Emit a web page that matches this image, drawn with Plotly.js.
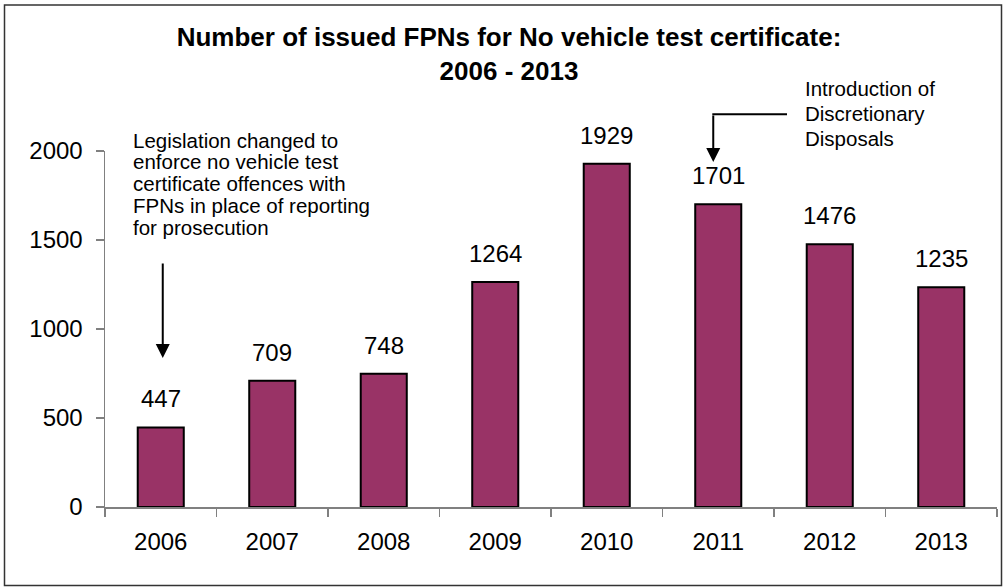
<!DOCTYPE html>
<html><head><meta charset="utf-8">
<script src="https://cdn.plot.ly/plotly-3.0.1.min.js"></script>
<style>html,body{margin:0;padding:0;background:#fff}#chart{width:1003px;height:587px}</style>
</head><body><div id="chart"></div>
<script>
// ---- data ----
const years = ['2006','2007','2008','2009','2010','2011','2012','2013'];
const fpns = [447, 709, 748, 1264, 1929, 1701, 1476, 1235];
const yTicks = [0, 500, 1000, 1500, 2000];
const titleText = 'Number of issued FPNs for No vehicle test certificate:<br>2006 - 2013';
const noteLeft = ['Legislation changed to', 'enforce no vehicle test', 'certificate offences with', 'FPNs in place of reporting', 'for prosecution'];
const noteRight = ['Introduction of', 'Discretionary', 'Disposals'];
const noteLeftYear = '2006';
const noteRightYear = '2011';

// ---- layout geometry (pixels) ----
const FONT = 'Liberation Sans, Arial, sans-serif';
const L = 105, R = 997, T = 151, B = 507, FW = 1003, FH = 587;
const W = R - L, H = B - T;
const YMAX = 2000;
const px = x => (x - L) / W;
const py = y => (B - y) / H;
const pv = y => (B - y) / H * YMAX;
const idx = yr => years.indexOf(yr);

const annotations = [];
// data labels
years.forEach((yr, i) => {
  annotations.push({
    x: idx(yr), y: fpns[i], xref: 'x', yref: 'y', text: String(fpns[i]),
    showarrow: false, yanchor: 'bottom', yshift: 13,
    font: {family: FONT, size: 24, color: '#000'}
  });
});
// left note lines
noteLeft.forEach((t, i) => {
  annotations.push({
    x: px(131), y: py(140 + i * 21.8), xref: 'paper', yref: 'paper', text: t,
    showarrow: false, xanchor: 'left', yanchor: 'middle',
    font: {family: FONT, size: 20.5, color: '#000'}
  });
});
// right note lines
noteRight.forEach((t, i) => {
  annotations.push({
    x: px(803), y: py(89 + i * 25), xref: 'paper', yref: 'paper', text: t,
    showarrow: false, xanchor: 'left', yanchor: 'middle',
    font: {family: FONT, size: 20.5, color: '#000'}
  });
});
// arrows
annotations.push({
  x: idx(noteLeftYear), y: pv(358), xref: 'x', yref: 'y', text: '', xshift: 2,
  showarrow: true, ax: 0, ay: -96, arrowhead: 2, arrowsize: 1.4, arrowwidth: 2,
  arrowcolor: '#000', standoff: 0
});
annotations.push({
  x: idx(noteRightYear), y: pv(162), xref: 'x', yref: 'y', text: '', xshift: -5,
  showarrow: true, ax: 0, ay: -48, arrowhead: 2, arrowsize: 1.4, arrowwidth: 2,
  arrowcolor: '#000', standoff: 0
});

const shapes = [
  {type: 'line', xref: 'paper', yref: 'paper', x0: px(712.3), x1: px(787), y0: py(114.3), y1: py(114.3),
   line: {color: '#000', width: 2}},
  {type: 'rect', xref: 'paper', yref: 'paper', x0: px(4.5), x1: px(1001.5), y0: py(5), y1: py(585.5),
   line: {color: '#333', width: 1.5}, fillcolor: 'rgba(0,0,0,0)'}
];

const trace = {
  type: 'bar', x: years, y: fpns,
  marker: {color: '#993366', line: {color: '#000', width: 2}},
  hoverinfo: 'x+y'
};

const layout = {
  width: FW, height: FH,
  margin: {l: L, r: FW - R, t: T, b: FH - B, pad: 0},
  paper_bgcolor: '#fff', plot_bgcolor: '#fff',
  showlegend: false,
  bargap: 0.587,
  font: {family: FONT, color: '#000'},
  title: {
    text: '<b>' + titleText + '</b>',
    font: {family: FONT, size: 26, color: '#000'},
    xref: 'container', x: 509 / FW, xanchor: 'center',
    yref: 'container', y: 1 - 46 / FH, yanchor: 'top'
  },
  xaxis: {
    type: 'category', categoryorder: 'array', categoryarray: years,
    range: [-0.5, years.length - 0.5], autorange: false,
    showline: true, linecolor: '#808080', linewidth: 1.5,
    ticks: 'outside', tickson: 'boundaries', ticklen: 8, tickcolor: '#808080', tickwidth: 1.5,
    tickfont: {family: FONT, size: 24, color: '#000'}, ticklabelstandoff: 13, tickangle: 0,
    showgrid: false, zeroline: false, fixedrange: true
  },
  yaxis: {
    range: [0, YMAX], autorange: false, tickvals: yTicks, ticktext: yTicks.map(String),
    showline: true, linecolor: '#808080', linewidth: 1.5,
    ticks: 'outside', ticklen: 8, tickcolor: '#808080', tickwidth: 1.5,
    tickfont: {family: FONT, size: 24, color: '#000'}, ticklabelstandoff: 8,
    showgrid: false, zeroline: false, fixedrange: true
  },
  annotations: annotations,
  shapes: shapes
};

Plotly.newPlot('chart', [trace], layout, {displayModeBar: false, staticPlot: true});
</script>
</body></html>
